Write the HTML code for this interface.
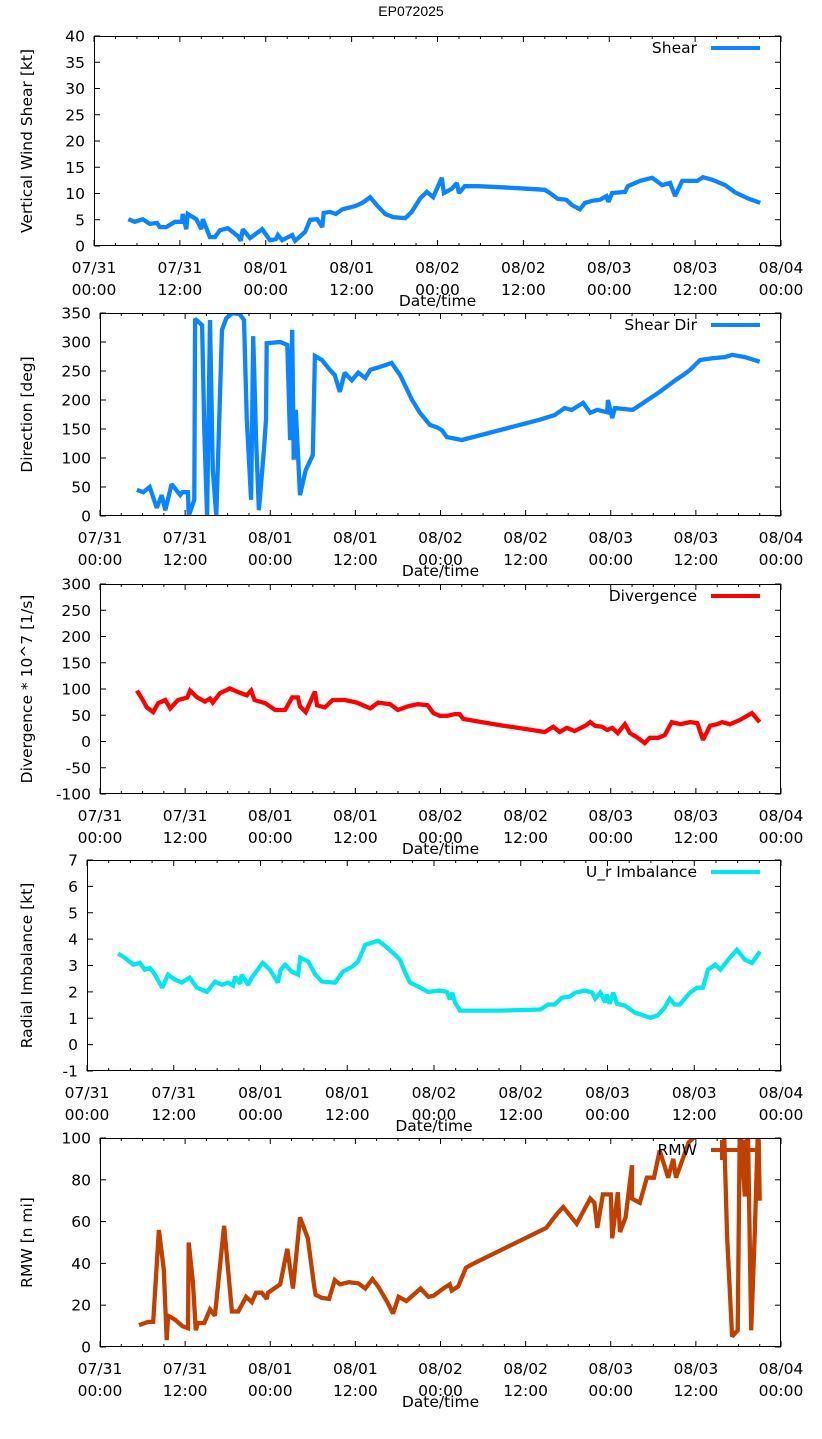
<!DOCTYPE html>
<html><head><meta charset="utf-8">
<style>
html,body{margin:0;padding:0;background:#fff;}
svg{display:block;font-family:"DejaVu Sans","Liberation Sans",sans-serif;}
</style></head>
<body>
<svg id="chart" width="822" height="1439" viewBox="0 0 822 1439" xmlns="http://www.w3.org/2000/svg">
<text x="411" y="16" text-anchor="middle" font-size="14" font-family="Liberation Sans, sans-serif">EP072025</text>
</svg>
<script>
const xTickTop = ["07/31","07/31","08/01","08/01","08/02","08/02","08/03","08/03","08/04"];
const xTickBot = ["00:00","12:00","00:00","12:00","00:00","12:00","00:00","12:00","00:00"];

const shearHours = [4.8,5.7,6.8,7.8,8.8,9.2,10.1,11.3,12.3,12.4,12.9,13.1,14.3,15.0,15.2,16.2,16.9,17.6,18.7,20.1,20.5,20.8,21.8,23.5,24.6,25.4,25.7,26.3,27.7,28.1,29.5,30.2,31.2,31.9,32.1,33.0,33.8,34.7,36.5,37.5,38.6,39.5,40.7,41.8,43.5,44.4,45.6,46.5,47.4,48.6,48.9,50.0,50.7,51.0,51.8,53.7,56.7,59.5,63.0,63.7,64.8,66.0,66.8,67.9,68.6,69.6,70.7,71.6,71.9,72.4,74.2,74.6,76.3,78.0,79.4,80.5,81.2,82.2,84.3,85.1,86.4,88.2,89.6,91.5,93.1];
const shearValues = [5.1,4.6,5.1,4.2,4.4,3.6,3.6,4.6,4.6,6.1,3.2,6.1,5.1,3.2,5.1,1.7,1.7,3.0,3.4,1.9,1.0,3.2,1.5,3.2,1.1,1.3,2.1,1.1,2.1,1.0,2.7,5.0,5.1,3.6,6.3,6.5,6.1,7.0,7.6,8.2,9.3,7.8,6.1,5.5,5.3,6.5,9.1,10.3,9.3,13.0,10.1,10.9,12.0,10.1,11.4,11.4,11.2,11.0,10.7,10.1,9.0,8.8,7.8,7.0,8.2,8.6,8.8,9.5,8.4,10.1,10.3,11.4,12.4,13.0,11.6,12.0,9.5,12.4,12.4,13.1,12.6,11.6,10.2,9.0,8.2];

const dirHours = [5.2,6.1,7.0,8.0,8.7,9.2,10.1,11.3,11.6,12.4,12.5,13.3,13.4,14.4,14.7,15.1,15.5,15.9,16.4,17.2,17.8,18.7,19.7,20.3,20.7,21.3,21.6,22.0,22.4,23.1,23.4,23.5,25.4,26.4,26.8,27.1,27.3,27.6,28.2,29.0,30.0,30.3,31.3,32.4,33.1,33.8,34.5,35.5,36.4,37.4,38.1,40.2,41.1,42.3,44.0,45.1,46.5,47.5,48.2,48.9,51.0,62.0,64.1,65.5,66.5,68.1,69.1,70.1,71.5,71.6,72.2,72.6,75.1,76.1,78.9,81.1,82.2,83.2,84.6,86.3,88.1,89.1,90.9,93.0];
const dirValues = [45,41,50,14,36,10,55,36,41,41,0,28,340,329,148,0,338,79,0,321,341,350,348,338,166,28,310,131,10,114,166,298,300,295,131,321,97,183,36,79,105,276,269,252,243,214,247,234,247,238,252,260,264,243,200,178,157,153,148,136,131,166,174,186,183,195,178,183,179,200,169,186,183,191,214,234,243,252,269,272,274,278,274,266];

const divHours = [5.2,5.9,6.6,7.5,8.2,9.2,9.9,11.0,12.3,12.7,13.7,14.8,15.5,15.9,16.9,18.3,19.7,20.7,21.3,21.8,23.3,24.7,26.1,27.1,27.9,28.2,29.0,30.3,30.6,31.7,32.8,34.5,36.2,38.1,39.2,40.9,42.0,43.4,44.8,46.2,47.0,47.9,48.9,50.0,50.7,51.2,52.9,56.4,59.9,62.7,63.9,64.8,65.8,66.9,68.4,69.1,69.8,70.8,71.5,72.2,73.0,74.0,74.7,75.8,76.8,77.5,78.7,79.6,80.6,81.8,83.2,84.2,85.0,86.0,87.0,87.7,88.8,90.2,91.9,93.0];
const divValues = [97,82,65,56,73,79,63,79,84,97,84,76,82,74,92,101,93,88,97,79,73,60,60,84,84,67,56,95,69,65,79,79,74,63,74,71,60,67,71,69,54,49,49,52,52,43,39,31,24,18,28,18,26,20,30,37,30,28,22,26,16,33,16,7,-3,7,7,12,37,33,37,35,3,30,33,37,33,41,54,37];

const imbHours = [4.3,5.2,6.4,7.3,8.0,8.7,9.4,10.4,11.2,12.2,13.1,14.2,15.2,16.6,17.7,18.7,19.5,20.2,20.5,21.2,21.4,22.3,22.8,24.3,25.3,26.4,26.8,27.4,28.3,29.2,29.5,30.6,31.6,32.5,34.3,35.4,36.7,37.5,38.5,40.3,41.2,42.6,43.3,44.0,44.7,45.8,47.2,48.8,49.8,50.2,50.5,50.9,51.6,54.4,57.1,62.7,63.8,64.7,65.7,66.8,67.5,68.9,69.9,70.3,71.0,71.7,71.9,72.3,72.8,73.3,74.4,75.8,77.9,78.9,79.9,80.6,81.3,82.0,83.4,84.4,85.2,85.9,86.9,87.6,88.7,89.9,91.0,92.0,93.1];
const imbValues = [3.45,3.3,3.03,3.1,2.84,2.9,2.65,2.16,2.65,2.46,2.35,2.54,2.16,2.0,2.39,2.27,2.35,2.24,2.58,2.31,2.65,2.27,2.54,3.1,2.84,2.35,2.84,3.03,2.77,2.65,3.3,3.15,2.65,2.39,2.35,2.77,2.96,3.15,3.79,3.94,3.75,3.41,3.22,2.73,2.35,2.2,2.0,2.05,2.0,1.71,1.97,1.6,1.29,1.29,1.29,1.33,1.52,1.52,1.78,1.82,1.97,2.05,1.97,1.74,1.97,1.6,1.9,1.55,1.97,1.55,1.48,1.21,1.02,1.1,1.4,1.74,1.52,1.52,1.97,2.16,2.16,2.84,3.03,2.84,3.22,3.6,3.22,3.1,3.53];

const rmwHours = [5.5,6.8,7.5,8.3,9.0,9.4,9.6,10.6,11.6,12.4,12.5,13.1,13.5,13.8,14.7,15.5,16.2,17.5,18.6,19.5,20.6,21.4,22.0,22.8,23.5,23.7,25.4,26.4,27.2,28.2,29.3,30.2,30.4,31.3,32.3,33.1,33.8,35.1,36.4,37.4,38.4,39.2,40.5,41.3,42.1,43.2,45.2,46.3,47.0,48.4,49.3,49.6,50.5,51.6,52.7,62.9,64.5,65.3,67.2,69.1,69.7,70.1,70.9,72.0,72.2,73.0,73.3,74.1,75.0,75.0,76.1,77.1,78.1,78.9,80.1,80.8,81.2,83.0,84.0,84.6,87.8,88.4,89.1,89.9,90.2,90.9,91.3,91.8,92.3,92.8,93.0];
const rmwValues = [10.5,12,12,56,37,3.3,15,13,10,9,50,31,8,11.5,11.5,18,15,58,17,17,24,21.5,26,26,23,26,30,47,28,62,52,29,25,23.5,23,32,30,31,30.5,28,32.5,29,21.5,16,24,22,28,24,24.5,28,30,27,29,38,40,57,64,67,59,71,69,57,73,73,52,74,55,62,87,71,69,81,81,94,81,90,81,98,101,125,125,53,5,8,110,72,110,8,55,110,70];

const panels = [
  {name:"shear", L:94, T:36, B:246, yMin:0, yMax:40, yStep:5, ttl:"Vertical Wind Shear [kt]", leg:"Shear", color:"#0a84ff", hrs:shearHours, vals:shearValues},
  {name:"shear-dir", L:100, T:313, B:516, yMin:0, yMax:350, yStep:50, ttl:"Direction [deg]", leg:"Shear Dir", color:"#0a84ff", hrs:dirHours, vals:dirValues},
  {name:"divergence", L:100, T:584, B:794, yMin:-100, yMax:300, yStep:50, ttl:"Divergence * 10^7 [1/s]", leg:"Divergence", color:"#ff0000", hrs:divHours, vals:divValues},
  {name:"imbalance", L:87, T:860, B:1071, yMin:-1, yMax:7, yStep:1, ttl:"Radial Imbalance [kt]", leg:"U_r Imbalance", color:"#00e8ee", hrs:imbHours, vals:imbValues},
  {name:"rmw", L:100, T:1138, B:1347, yMin:0, yMax:100, yStep:20, ttl:"RMW [n mi]", leg:"RMW", color:"#c04000", hrs:rmwHours, vals:rmwValues}
];

const NS = "http://www.w3.org/2000/svg";
const svg = document.getElementById('chart');
const R = 781;
function mk(tag, attrs, parent){ const e=document.createElementNS(NS,tag); for(const k in attrs) e.setAttribute(k, attrs[k]); parent.appendChild(e); return e; }

panels.forEach((p, pi) => {
  const g = mk('g', {}, svg);
  
  
  const xs = h => p.L + (R - p.L) * h / 96;
  const ys = v => p.B - (p.B - p.T) * (v - p.yMin) / (p.yMax - p.yMin);
  const cid = 'clip' + pi;
  const cp = mk('clipPath', {id: cid}, g);
  mk('rect', {x:p.L, y:p.T, width:R-p.L, height:p.B-p.T}, cp);
  for (let h = 0; h <= 96; h += 3) {
    const len = (h % 12 === 0) ? 6 : 3;
    const x = xs(h);
    mk('line', {x1:x, y1:p.B, x2:x, y2:p.B-len, stroke:'#000', 'stroke-width':1}, g);
    mk('line', {x1:x, y1:p.T, x2:x, y2:p.T+len, stroke:'#000', 'stroke-width':1}, g);
  }
  xTickTop.forEach((t, i) => {
    const x = xs(i * 12);
    const a = mk('text', {x:x, y:p.B+27, 'text-anchor':'middle', 'font-size':15.5}, g);
    a.textContent = t;
    
    
    const b = mk('text', {x:x, y:p.B+49, 'text-anchor':'middle', 'font-size':15.5}, g);
    b.textContent = xTickBot[i];
    
    
  });
  const xl = mk('text', {x:(p.L+R)/2, y:p.B+60, 'text-anchor':'middle', 'font-size':15.5}, g);
  xl.textContent = 'Date/time';
  
  
  for (let v = p.yMin; v <= p.yMax + 1e-9; v += p.yStep) {
    const y = ys(v);
    mk('line', {x1:p.L, y1:y, x2:p.L+6, y2:y, stroke:'#000', 'stroke-width':1}, g);
    mk('line', {x1:R, y1:y, x2:R-6, y2:y, stroke:'#000', 'stroke-width':1}, g);
    const t = mk('text', {x:p.L-9, y:y+5.5, 'text-anchor':'end', 'font-size':15.5}, g);
    t.textContent = String(v);
    
    
  }
  const cy = (p.T + p.B) / 2;
  const yt = mk('text', {x:32, y:cy, 'text-anchor':'middle', 'font-size':15.5, transform:'rotate(-90 32 '+cy+')'}, g);
  yt.textContent = p.ttl;
  
  
  const pts = p.hrs.map((h, i) => xs(h).toFixed(1) + ',' + ys(p.vals[i]).toFixed(1)).join(' ');
  const line = mk('polyline', {points:pts, fill:'none', stroke:p.color, 'stroke-width':4.3, 'stroke-linejoin':'miter', 'stroke-miterlimit':2, 'clip-path':'url(#'+cid+')'}, g);
  
  
  const lg = mk('g', {}, g);
  
  
  const lt = mk('text', {x:697, y:p.T+17, 'text-anchor':'end', 'font-size':15.5}, lg);
  lt.textContent = p.leg;
  mk('line', {x1:711, y1:p.T+12, x2:760, y2:p.T+12, stroke:p.color, 'stroke-width':4}, lg);
  if (p.name === 'rmw') {
    mk('line', {x1:722, y1:p.T+2, x2:722, y2:p.T+22, stroke:p.color, 'stroke-width':4}, lg);
    mk('line', {x1:745, y1:p.T+2, x2:745, y2:p.T+22, stroke:p.color, 'stroke-width':4}, lg);
  }
  const fr = mk('rect', {x:p.L+0.5, y:p.T+0.5, width:R-p.L-1, height:p.B-p.T-1, fill:'none', stroke:'#000', 'stroke-width':1}, g);
  
  
});
</script>
</body></html>
